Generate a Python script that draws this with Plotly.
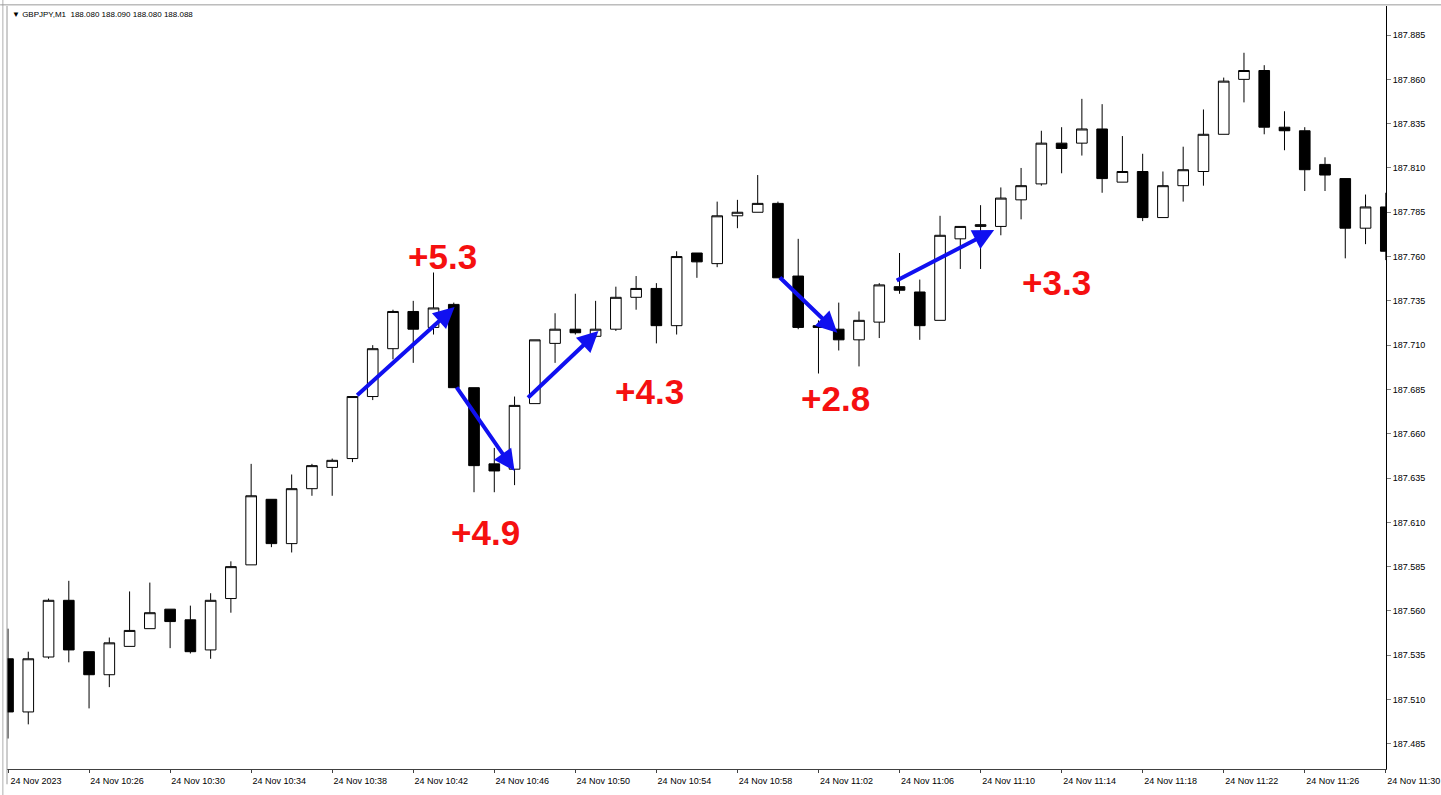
import pandas as pd
import plotly.graph_objects as go

# GBPJPY M1 candles, 24 Nov 2023 10:22 -> 11:30
opens = [187.533, 187.503, 187.534, 187.566, 187.537, 187.524, 187.540, 187.550, 187.561, 187.555,
         187.538, 187.567, 187.586, 187.623, 187.598, 187.629, 187.641, 187.646, 187.681, 187.708,
         187.729, 187.720, 187.733, 187.686, 187.643, 187.640, 187.677, 187.711, 187.719, 187.715,
         187.719, 187.737, 187.742, 187.721, 187.762, 187.756, 187.783, 187.785, 187.790, 187.749,
         187.721, 187.719, 187.713, 187.723, 187.743, 187.740, 187.724, 187.770, 187.777, 187.777,
         187.792, 187.801, 187.824, 187.824, 187.832, 187.802, 187.808, 187.782, 187.800, 187.808,
         187.829, 187.860, 187.865, 187.833, 187.831, 187.812, 187.804, 187.776, 187.788]
highs = [187.550, 187.537, 187.567, 187.577, 187.537, 187.545, 187.571, 187.576, 187.561, 187.563,
         187.570, 187.588, 187.643, 187.623, 187.637, 187.643, 187.646, 187.681, 187.710, 187.730,
         187.735, 187.751, 187.734, 187.686, 187.652, 187.681, 187.713, 187.728, 187.739, 187.735,
         187.743, 187.749, 187.745, 187.763, 187.762, 187.791, 187.792, 187.806, 187.791, 187.770,
         187.724, 187.734, 187.729, 187.745, 187.762, 187.747, 187.783, 187.777, 187.789, 187.799,
         187.810, 187.831, 187.833, 187.849, 187.846, 187.828, 187.818, 187.808, 187.822, 187.843,
         187.861, 187.875, 187.868, 187.842, 187.833, 187.816, 187.804, 187.795, 187.796]
lows = [187.488, 187.496, 187.533, 187.531, 187.505, 187.517, 187.540, 187.550, 187.539, 187.536,
        187.533, 187.559, 187.586, 187.596, 187.593, 187.625, 187.625, 187.644, 187.679, 187.702,
        187.700, 187.716, 187.686, 187.627, 187.627, 187.631, 187.677, 187.700, 187.716, 187.714,
        187.718, 187.730, 187.711, 187.716, 187.748, 187.754, 187.776, 187.785, 187.748, 187.719,
        187.694, 187.707, 187.698, 187.714, 187.739, 187.713, 187.724, 187.753, 187.753, 187.772,
        187.781, 187.800, 187.807, 187.817, 187.796, 187.802, 187.780, 187.782, 187.791, 187.800,
        187.829, 187.847, 187.829, 187.820, 187.797, 187.797, 187.759, 187.767, 187.758]
closes = [187.503, 187.533, 187.566, 187.538, 187.524, 187.542, 187.549, 187.559, 187.554, 187.537,
          187.566, 187.585, 187.625, 187.598, 187.629, 187.642, 187.645, 187.681, 187.708, 187.729,
          187.719, 187.731, 187.686, 187.642, 187.639, 187.676, 187.713, 187.719, 187.717, 187.719,
          187.737, 187.742, 187.721, 187.760, 187.757, 187.783, 187.785, 187.790, 187.748, 187.720,
          187.720, 187.713, 187.724, 187.744, 187.741, 187.721, 187.772, 187.777, 187.778, 187.793,
          187.800, 187.824, 187.821, 187.832, 187.804, 187.808, 187.782, 187.800, 187.809, 187.829,
          187.859, 187.865, 187.833, 187.831, 187.809, 187.806, 187.776, 187.788, 187.763]

price_ticks = [187.485, 187.510, 187.535, 187.560, 187.585, 187.610, 187.635, 187.660, 187.685,
               187.710, 187.735, 187.760, 187.785, 187.810, 187.835, 187.860, 187.885]
time_ticks = ["10:22", "10:26", "10:30", "10:34", "10:38", "10:42", "10:46", "10:50", "10:54",
              "10:58", "11:02", "11:06", "11:10", "11:14", "11:18", "11:22", "11:26", "11:30"]
time_tick_text = ["24 Nov 2023"] + ["24 Nov " + t for t in time_ticks[1:]]

# blue arrows: (start minute offset, start price) -> (end minute offset, end price)
arrow_from_min = [17.16, 22.09, 25.59, 38.02, 43.79]
arrow_from_px = [187.681, 187.687, 187.6795, 187.749, 187.746]
arrow_to_min = [22.04, 25.00, 29.14, 40.93, 48.67]
arrow_to_px = [187.7315, 187.639, 187.718, 187.717, 187.775]

# red pip labels
label_text = ["+5.3", "+4.9", "+4.3", "+2.8", "+3.3"]
label_min = [21.45, 23.57, 31.66, 40.83, 51.73]
label_px = [187.760, 187.604, 187.684, 187.680, 187.7456]

base = pd.Timestamp("2023-11-24 10:22")
times = pd.date_range(base, periods=len(opens), freq="min")


def at(minutes):
    return (base + pd.Timedelta(minutes=minutes)).strftime("%Y-%m-%d %H:%M:%S.%f")


fig = go.Figure(go.Candlestick(
    x=times, open=opens, high=highs, low=lows, close=closes,
    increasing=dict(fillcolor="white", line=dict(color="black", width=1)),
    decreasing=dict(fillcolor="black", line=dict(color="black", width=1)),
    whiskerwidth=0,
    hoverinfo="x+y",
))

annotations = []
for fm, fp, tm, tp in zip(arrow_from_min, arrow_from_px, arrow_to_min, arrow_to_px):
    annotations.append(dict(
        x=at(tm), y=tp, ax=at(fm), ay=fp, xref="x", yref="y", axref="x", ayref="y",
        text="", showarrow=True, arrowhead=2, arrowsize=1.05, arrowwidth=4,
        arrowcolor="rgb(16,16,240)", standoff=0, startstandoff=0,
    ))
for t, m, p in zip(label_text, label_min, label_px):
    annotations.append(dict(
        x=at(m), y=p, xref="x", yref="y", text="<b>" + t + "</b>", showarrow=False,
        font=dict(family="Liberation Sans, Arial", size=35, color="rgb(245,16,16)"),
    ))
annotations.append(dict(
    x=0.002, y=0.9895, xref="paper", yref="paper", xanchor="left", yanchor="middle",
    text="▼ GBPJPY,M1  188.080 188.090 188.080 188.088", showarrow=False,
    font=dict(family="Liberation Sans, Arial", size=8, color="black"),
))

fig.update_layout(
    width=1441, height=795,
    margin=dict(l=7, r=55, t=6, b=26, autoexpand=False),
    paper_bgcolor="white", plot_bgcolor="white",
    showlegend=False, boxgap=0.25,
    font=dict(family="Liberation Sans, Arial", size=9, color="black"),
    annotations=annotations,
    shapes=[
        dict(type="line", xref="paper", yref="paper", x0=0, x1=0, y0=-0.02, y1=1,
             line=dict(color="#9a9a9a", width=1)),
        dict(type="line", xref="paper", yref="paper", x0=-0.003, x1=-0.003, y0=-0.04, y1=1.01,
             line=dict(color="#b0b0b0", width=1)),
        dict(type="line", xref="paper", yref="paper", x0=-0.005, x1=1.04, y0=1.0015, y1=1.0015,
             line=dict(color="#9a9a9a", width=1)),
    ],
    xaxis=dict(
        type="date",
        range=[at(-0.05), at(68.01)],
        rangeslider=dict(visible=False),
        automargin=False,
        showgrid=False, zeroline=False,
        showline=True, linecolor="#404040", linewidth=1,
        ticks="outside", ticklen=3, tickcolor="#404040",
        tickvals=[at(4 * i) for i in range(len(time_ticks))],
        ticktext=time_tick_text,
        ticklabelshift=28, ticklabelstandoff=0,
        tickfont=dict(size=9),
    ),
    yaxis=dict(
        side="right",
        range=[187.4708, 187.9014],
        automargin=False,
        showgrid=False, zeroline=False,
        showline=True, linecolor="black", linewidth=1,
        ticks="outside", ticklen=4, tickcolor="#808080",
        tickvals=price_ticks, tickformat=".3f",
        tickfont=dict(size=9),
    ),
)

fig.write_html(
    "out.html",
    config={"displayModeBar": False},
    post_script="document.body.style.margin='0';document.body.style.overflow='hidden';",
)
